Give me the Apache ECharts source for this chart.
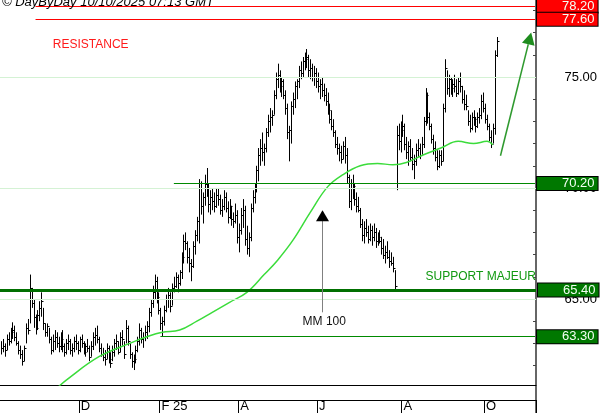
<!DOCTYPE html>
<html><head><meta charset="utf-8">
<script src="https://cdn.jsdelivr.net/npm/echarts@6/dist/echarts.min.js"></script>
<style>html,body{margin:0;padding:0;background:#fff}#c{width:600px;height:413px}</style>
</head><body><div id="c"></div>
<script>
// ---- data ----
const lows = [
62.5,62.6,62.4,62.7,62.9,63.0,63.2,63.1,62.9,62.5,
62.3,62.0,62.2,63.0,63.4,63.9,64.6,63.7,63.4,63.6,
64.0,64.2,63.6,63.3,63.3,63.0,62.5,62.6,62.7,62.8,
62.6,62.7,62.6,62.4,62.5,62.7,62.5,62.4,62.6,62.7,
62.5,62.6,62.8,62.5,62.4,62.6,62.2,62.4,62.7,62.9,
63.0,62.6,62.4,62.2,62.0,62.3,62.1,61.9,62.2,62.4,
62.7,62.5,62.6,62.9,62.3,63.0,62.9,62.3,61.9,61.8,
62.1,62.6,62.9,63.0,62.8,63.1,63.2,63.5,64.2,64.6,
65.0,64.8,64.3,63.6,63.3,63.8,64.4,64.6,64.4,64.7,
65.3,65.5,65.3,65.6,65.9,66.6,67.2,66.6,66.2,65.8,
66.4,67.0,67.6,67.5,68.8,68.4,69.2,69.6,68.9,68.8,
69.0,68.9,69.1,69.2,68.8,68.7,69.0,68.9,68.4,68.6,
68.3,68.2,68.4,67.5,67.1,67.9,68.2,67.4,67.0,66.9,
67.6,68.9,69.3,69.8,70.3,71.0,71.2,71.0,71.6,72.3,
72.5,72.8,73.3,74.0,74.5,74.3,74.1,74.0,73.3,72.2,
71.2,72.0,73.3,73.6,74.0,74.5,74.9,75.0,75.3,75.4,
75.0,74.9,74.8,74.6,74.5,74.3,74.0,74.1,73.9,73.7,
73.3,72.9,72.6,72.3,71.8,71.5,71.2,71.1,71.3,71.1,
70.2,69.1,69.0,69.5,69.2,68.9,68.9,68.2,67.6,67.5,
67.8,67.5,67.6,67.4,67.6,67.3,67.4,67.5,67.0,66.8,
66.6,66.8,66.4,66.5,66.2,65.4,69.9,71.7,71.6,72.3,
71.7,71.3,71.0,71.2,70.8,70.4,71.0,71.4,71.3,71.5,
71.8,72.8,72.9,72.6,72.0,71.5,71.2,70.8,70.9,71.0,
71.2,73.4,74.2,74.1,74.2,74.1,74.3,74.1,74.2,74.3,
73.8,73.5,73.5,72.8,72.5,72.6,72.8,72.5,72.7,72.9,
73.1,73.4,72.9,72.6,72.1,71.8,72.0,72.4,75.9];
const highs = [
63.1,63.2,63.0,63.4,63.5,63.7,63.95,63.8,63.5,63.1,
62.9,62.7,62.9,63.9,64.1,66.1,65.5,65.0,64.3,64.5,
64.9,65.3,64.6,63.9,63.9,63.7,63.3,63.4,63.6,63.5,
63.3,63.5,63.6,63.0,63.2,63.4,63.2,63.0,63.3,63.4,
63.1,63.3,63.4,63.1,63.0,63.2,62.9,63.1,63.5,63.7,
63.8,63.3,63.0,62.8,62.7,63.0,62.9,62.6,62.9,63.2,
63.4,63.1,63.5,63.6,63.1,64.05,63.8,63.0,62.6,62.5,
62.9,63.3,63.9,63.7,63.5,63.8,64.0,64.6,65.0,65.6,
66.1,66.0,65.3,64.6,64.2,64.7,65.2,65.5,65.3,65.7,
66.0,66.2,66.1,66.3,67.1,67.9,68.0,67.6,67.3,66.8,
67.6,68.1,68.7,70.4,70.3,69.8,70.6,70.9,70.2,69.9,
70.0,69.8,70.0,70.0,69.7,69.5,69.9,69.8,69.4,69.5,
69.2,68.9,69.3,69.0,68.4,69.1,69.5,69.2,68.3,68.0,
69.3,69.9,70.2,71.0,71.8,72.2,72.5,72.0,72.7,73.3,
73.6,73.5,74.4,75.2,75.6,75.3,75.0,74.9,74.4,73.8,
72.8,73.9,74.3,74.8,74.9,75.5,75.7,75.9,76.1,76.26,
76.0,75.8,75.6,75.5,75.4,75.2,74.9,75.0,74.7,74.5,
74.3,73.8,73.5,73.1,72.6,72.3,72.0,71.9,72.1,72.3,
71.8,70.6,70.4,70.6,70.2,69.8,69.6,69.1,68.6,68.5,
68.6,68.3,68.4,68.3,68.4,68.2,68.0,68.1,67.8,67.7,
67.4,67.6,67.2,67.1,66.9,66.3,72.8,72.9,73.0,73.3,
72.9,72.3,72.1,72.2,71.8,71.5,72.0,72.2,72.0,72.3,
73.2,74.5,74.3,73.4,72.9,72.4,72.1,71.7,71.7,71.7,
73.8,75.8,75.3,75.1,75.0,74.9,75.1,74.9,75.0,75.2,
74.6,74.4,74.2,73.5,73.3,73.4,73.5,73.2,73.4,73.6,
74.2,74.3,73.8,73.3,72.9,72.6,72.9,76.2,76.8];
const closes = [
62.8,62.9,62.7,63.2,63.1,63.5,63.6,63.3,63.0,62.7,
62.5,62.2,62.8,63.7,63.6,65.5,64.8,64.2,63.7,64.3,
64.6,64.9,63.9,63.5,63.8,63.2,62.7,63.1,63.3,63.0,
62.9,63.2,62.9,62.6,63.0,63.1,62.7,62.8,63.1,63.0,
62.7,63.2,63.0,62.6,62.9,62.8,62.4,62.9,63.3,63.4,
63.2,62.8,62.5,62.4,62.3,62.8,62.3,62.1,62.6,63.0,
63.1,62.6,63.3,63.2,62.5,63.7,63.1,62.5,62.2,62.3,
62.7,63.1,63.6,63.2,63.3,63.5,63.8,64.4,64.8,65.3,
65.8,65.1,64.5,63.9,64.0,64.5,65.0,65.2,64.7,65.5,
65.6,66.0,65.7,66.2,66.9,67.6,67.5,66.9,66.6,66.5,
67.4,67.9,68.5,70.0,69.2,69.6,70.2,70.0,69.3,69.6,
69.4,69.2,69.7,69.5,69.0,69.2,69.6,69.1,68.7,69.2,
68.6,68.5,68.8,67.8,68.1,68.8,69.0,67.7,67.3,67.8,
69.1,69.6,70.0,70.8,71.5,71.8,71.6,71.8,72.5,73.0,
73.2,73.3,74.2,74.9,75.1,74.6,74.8,74.2,73.6,72.5,
72.6,73.7,74.0,74.6,74.8,75.3,75.2,75.7,75.8,75.9,
75.3,75.4,75.0,75.2,74.8,74.6,74.7,74.4,74.2,73.9,
73.5,73.1,72.8,72.5,72.0,71.8,71.6,71.3,71.9,71.5,
70.5,69.4,70.0,70.1,69.5,69.2,69.0,68.4,67.9,68.2,
68.0,67.7,68.1,67.8,68.0,67.6,67.8,67.6,67.3,67.0,
67.1,66.9,66.7,66.6,66.4,65.6,72.4,72.1,72.6,72.8,
72.0,71.6,71.9,71.4,71.1,71.2,71.7,71.8,71.5,72.0,
73.0,74.2,73.2,72.8,72.2,71.8,71.4,71.0,71.5,71.2,
73.6,75.4,74.5,74.9,74.5,74.7,74.6,74.3,74.8,74.6,
74.0,73.8,73.7,73.0,72.7,73.2,73.1,72.8,73.2,73.3,
73.9,73.6,73.1,72.8,72.3,72.0,72.7,76.0,76.6];

// 100-day moving average (trading-day index, value)
const maDay   = [30,34,51,67,76,84,93,102,110,119,128,137,144,152,161,170,178,187,196,204,211,220,229,238,246,253,256];
const maValue = [61.05,61.35,62.4,63.0,63.3,63.5,63.6,64.0,64.4,64.85,65.3,66.1,66.75,67.65,68.9,70.05,70.6,71.0,71.1,71.05,71.15,71.5,71.8,72.1,72.0,72.1,71.95];

const resistanceLevels = [78.20, 77.60];
const supportLevels = [70.20, 65.40, 63.30];
const gridLevels = [75, 70, 65];
const yTickValues = [62,63,64,65,66,67,68,69,70,71,72,73,74,75,76,77,78];
const yLabelValues = [65, 70, 75];
const tickMonths = ['2024-12','2025-02','2025-04','2025-06','2025-08','2025-10'];
const tickLabels = ['D','F 25','A','J','A','O'];
const holidays = ['2024-12-25','2024-12-26','2025-01-01','2025-04-18','2025-04-21','2025-05-01'];
const firstDay = [2024, 9, 4];
const axisDays = 279;
const titleText = '© DayByDay 10/10/2025 07:13 GMT';

// ---- trading-day calendar ----
const dates = [];
{
  const d = new Date(Date.UTC(firstDay[0], firstDay[1], firstDay[2]));
  while (dates.length < axisDays) {
    const s = d.toISOString().slice(0, 10);
    const wd = d.getUTCDay();
    if (wd !== 0 && wd !== 6 && holidays.indexOf(s) < 0) dates.push(s);
    d.setUTCDate(d.getUTCDate() + 1);
  }
}
function isMonthTick(i) {
  if (i <= 0) return false;
  const m = dates[i].slice(0, 7);
  return m !== dates[i - 1].slice(0, 7) && tickMonths.indexOf(m) >= 0;
}

const bars = closes.map((c, i) => [i, lows[i], highs[i], c]);
const ma = maDay.map((d, k) => [d, maValue[k]]);

const FONT = '"Liberation Sans", Arial, Helvetica, sans-serif';
const chart = echarts.init(document.getElementById('c'), null, {renderer: 'canvas'});

function boxLabel(v, color) {
  const txt = v.toFixed(2);
  return {
    show: true, position: 'end', distance: 2,
    formatter: () => txt,
    color: '#f4fff4', fontSize: 13, fontFamily: FONT, lineHeight: 12,
    backgroundColor: color, borderColor: '#000', borderWidth: 1,
    padding: [1, 3, 0, 25]
  };
}
const levelStart = {78.2: 18, 77.6: 18, 70.2: 90, 63.3: 83};
const levelLines = [];
resistanceLevels.forEach(v => levelLines.push([
  {coord: [levelStart[v], v], lineStyle: {color: '#ff0000', width: 1.2, type: 'solid'}, label: boxLabel(v, '#ff0000')},
  {coord: [axisDays - 1, v]}
]));
supportLevels.forEach(v => {
  if (levelStart[v] === undefined) {
    levelLines.push({yAxis: v, lineStyle: {color: '#007000', width: 3, type: 'solid'}, label: boxLabel(v, '#007800')});
  } else {
    levelLines.push([
      {coord: [levelStart[v], v], lineStyle: {color: '#008a00', width: 1, type: 'solid'}, label: boxLabel(v, '#007800')},
      {coord: [axisDays - 1, v]}
    ]);
  }
});

function renderBar(params, api) {
  const i = api.value(0);
  const pl = api.coord([i, api.value(1)]);
  const ph = api.coord([i, api.value(2)]);
  const pc = api.coord([i, api.value(3)]);
  const x = Math.round(pl[0]) + 0.5;
  const yc = Math.round(pc[1]) + 0.5;
  return {
    type: 'group',
    children: [
      {type: 'line', shape: {x1: x, y1: ph[1], x2: x, y2: pl[1]}, style: {stroke: '#000', lineWidth: 1}},
      {type: 'line', shape: {x1: x, y1: yc, x2: x + 2, y2: yc}, style: {stroke: '#000', lineWidth: 1}}
    ]
  };
}

function renderNotes(params, api) {
  const c = (i, v) => api.coord([i, v]);
  const text = (s, i, v, color) => {
    const p = c(i, v);
    return {type: 'text', style: {text: s, x: p[0], y: p[1], fill: color, fontSize: 12, fontFamily: FONT,
      align: 'left', verticalAlign: 'middle', textAlign: 'left', textVerticalAlign: 'middle'}};
  };
  const kids = [
    text('RESISTANCE', 27, 76.44, '#ff1a1a'),
    text('SUPPORT MAJEUR', 221, 66.0, '#119911'),
    text('MM 100', 157, 63.96, '#111')
  ];
  const tip = c(167, 69.0);
  const bx = Math.round(tip[0]) + 0.5;
  const tail = c(167, 64.4);
  kids.push({type: 'line', shape: {x1: bx, y1: tail[1], x2: bx, y2: tip[1] + 10}, style: {stroke: '#808080', lineWidth: 1}});
  kids.push({type: 'polygon', shape: {points: [[bx, tip[1]], [bx - 6.5, tip[1] + 11], [bx + 6.5, tip[1] + 11]]}, style: {fill: '#000'}});
  const g0 = c(260, 71.45), g1 = c(276, 77.0);
  const dx = g1[0] - g0[0], dy = g1[1] - g0[1], L = Math.hypot(dx, dy);
  const ux = dx / L, uy = dy / L, nx = -uy, ny = ux;
  const hb = [g1[0] - ux * 12, g1[1] - uy * 12];
  kids.push({type: 'line', shape: {x1: g0[0], y1: g0[1], x2: hb[0], y2: hb[1]}, style: {stroke: '#2f9a2f', lineWidth: 1.5}});
  kids.push({type: 'polygon', shape: {points: [[g1[0], g1[1]], [hb[0] + nx * 6.5, hb[1] + ny * 6.5], [hb[0] - nx * 6.5, hb[1] - ny * 6.5]]}, style: {fill: '#1e8c1e'}});
  return {type: 'group', children: kids};
}

const option = {
  animation: false,
  backgroundColor: '#fff',
  textStyle: {fontFamily: FONT},
  title: {text: titleText, left: 2, top: -4, padding: 0,
    textStyle: {fontStyle: 'italic', fontWeight: 'normal', fontSize: 13, color: '#000', fontFamily: FONT}},
  grid: [
    {left: 0, right: 64, top: 0, bottom: 28},
    {left: 0, right: 64, top: 385, bottom: 0}
  ],
  xAxis: [
    {gridIndex: 0, type: 'category', data: dates, boundaryGap: true,
      axisLine: {show: true, lineStyle: {color: '#000', width: 1}},
      axisTick: {show: false}, axisLabel: {show: false}, splitLine: {show: false}},
    {gridIndex: 1, type: 'category', data: dates, boundaryGap: true, position: 'bottom', offset: -15,
      axisLine: {show: true, lineStyle: {color: '#000', width: 1}},
      axisTick: {show: true, inside: false, length: 15, interval: (i) => isMonthTick(i), lineStyle: {color: '#000', width: 1}},
      axisLabel: {show: true, interval: (i) => isMonthTick(i), hideOverlap: false,
        formatter: (v) => { const k = tickMonths.indexOf(v.slice(0, 7)); return k >= 0 ? tickLabels[k] : ''; },
        align: 'left', verticalAlign: 'top', margin: 2, padding: [0, 0, 0, 1], color: '#000', fontSize: 13, fontFamily: FONT},
      splitLine: {show: false}}
  ],
  yAxis: [
    {gridIndex: 0, type: 'value', position: 'right', min: 61.126, max: 78.468, scale: true,
      axisLine: {show: true, lineStyle: {color: '#666', width: 2}},
      axisTick: {show: true, inside: true, length: 3, customValues: yTickValues, lineStyle: {color: '#444', width: 1}},
      axisLabel: {show: true, customValues: yLabelValues, formatter: v => v.toFixed(2), align: 'right', margin: 61,
        color: '#000', fontSize: 13, fontFamily: FONT},
      splitLine: {show: false}},
    {gridIndex: 1, type: 'value', position: 'right', min: 0, max: 1,
      axisLine: {show: true, lineStyle: {color: '#666', width: 2}},
      axisTick: {show: false}, axisLabel: {show: false}, splitLine: {show: false}}
  ],
  series: [
    {type: 'line', xAxisIndex: 0, yAxisIndex: 0, data: [], z: 1, silent: true,
      markLine: {silent: true, symbol: ['none', 'none'], animation: false,
        lineStyle: {color: '#d4f2d4', width: 1, type: 'solid'}, label: {show: false},
        data: gridLevels.map(v => ({yAxis: v}))}},
    {type: 'custom', xAxisIndex: 0, yAxisIndex: 0, data: bars, renderItem: renderBar, clip: true, z: 2,
      encode: {x: 0, y: [1, 2, 3]}, silent: true},
    {type: 'line', xAxisIndex: 0, yAxisIndex: 0, data: ma, smooth: 0.4, showSymbol: false, symbol: 'none', clip: true, z: 3,
      lineStyle: {color: '#3bdc3b', width: 1.5}, silent: true},
    {type: 'line', xAxisIndex: 0, yAxisIndex: 0, data: [], z: 4, clip: false, silent: true,
      markLine: {silent: true, symbol: ['none', 'none'], animation: false, data: levelLines}},
    {type: 'custom', xAxisIndex: 0, yAxisIndex: 0, data: [[0, 70]], renderItem: renderNotes, clip: true, z: 5, silent: true}
  ]
};
chart.setOption(option);
</script>
</body></html>
